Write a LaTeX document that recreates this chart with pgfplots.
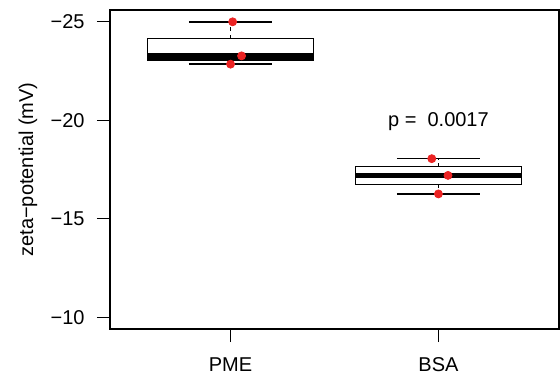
\documentclass[border=0pt]{standalone}
\usepackage{fontspec}
\setmainfont{Liberation Sans}
\usepackage{pgfplots}
\pgfplotsset{compat=1.18}
\definecolor{dotred}{RGB}{235,35,35}
\begin{document}
\begin{tikzpicture}
\useasboundingbox (-55pt,-22pt) rectangle (225pt,164.5pt);
\begin{axis}[
 at={(0,0)}, anchor=south west,
 scale only axis, width=224.5pt, height=159.5pt,
 xmin=0.42, xmax=2.58, ymin=-25.6, ymax=-9.4, y dir=reverse,
 xtick={1,2}, xticklabels={PME,BSA},
 ytick={-25,-20,-15,-10}, yticklabels={},
 tick align=outside, tick pos=left, major tick length=6.5pt,
 axis line style={line width=0.65pt},
 every tick/.style={black, line width=0.65pt},
 xticklabel style={anchor=base, inner sep=0pt, yshift=-14.7pt},
 ylabel={zeta−potential (mV)},
 ylabel style={at={(axis description cs:-0.1826,0.5)}, anchor=center, inner sep=0pt},
 clip=false,
]
% PME
\addplot[black, line width=0.7pt, dash pattern=on 2pt off 2pt] coordinates {(1,-24.14) (1,-25.0)};
\addplot[black, line width=0.7pt, dash pattern=on 2pt off 2pt] coordinates {(1,-23.06) (1,-22.85)};
\addplot[black, line width=0.7pt] coordinates {(0.8,-25.0) (1.2,-25.0)};
\addplot[black, line width=0.7pt] coordinates {(0.8,-22.85) (1.2,-22.85)};
\addplot[black, line width=0.75pt, fill=white] coordinates {(0.6,-24.14) (1.4,-24.14) (1.4,-23.06) (0.6,-23.06) (0.6,-24.14)};
\addplot[black, line width=2.85pt] coordinates {(0.6,-23.27) (1.4,-23.27)};
% BSA
\addplot[black, line width=0.7pt, dash pattern=on 2pt off 2pt] coordinates {(2,-17.64) (2,-18.05)};
\addplot[black, line width=0.7pt, dash pattern=on 2pt off 2pt] coordinates {(2,-16.75) (2,-16.26)};
\addplot[black, line width=0.7pt] coordinates {(1.8,-18.05) (2.2,-18.05)};
\addplot[black, line width=0.7pt] coordinates {(1.8,-16.26) (2.2,-16.26)};
\addplot[black, line width=0.75pt, fill=white] coordinates {(1.6,-17.64) (2.4,-17.64) (2.4,-16.75) (1.6,-16.75) (1.6,-17.64)};
\addplot[black, line width=2.85pt] coordinates {(1.6,-17.2) (2.4,-17.2)};
% points
\addplot[only marks, mark=*, mark size=2pt, mark options={draw=dotred, fill=dotred}] coordinates {(1.01,-25.0) (1.053,-23.27) (1.0,-22.85)};
\addplot[only marks, mark=*, mark size=2pt, mark options={draw=dotred, fill=dotred}] coordinates {(1.968,-18.05) (2.046,-17.2) (2.0,-16.26)};
\node[anchor=base, inner sep=0pt] at (axis cs:2,-19.68) {p =\ \ 0.0017};
% y tick labels
\node[anchor=east, inner sep=0pt, xshift=-12.5pt] at (axis cs:0.42,-25) {−25};
\node[anchor=east, inner sep=0pt, xshift=-12.5pt] at (axis cs:0.42,-20) {−20};
\node[anchor=east, inner sep=0pt, xshift=-12.5pt] at (axis cs:0.42,-15) {−15};
\node[anchor=east, inner sep=0pt, xshift=-12.5pt] at (axis cs:0.42,-10) {−10};
\end{axis}
\end{tikzpicture}
\end{document}
